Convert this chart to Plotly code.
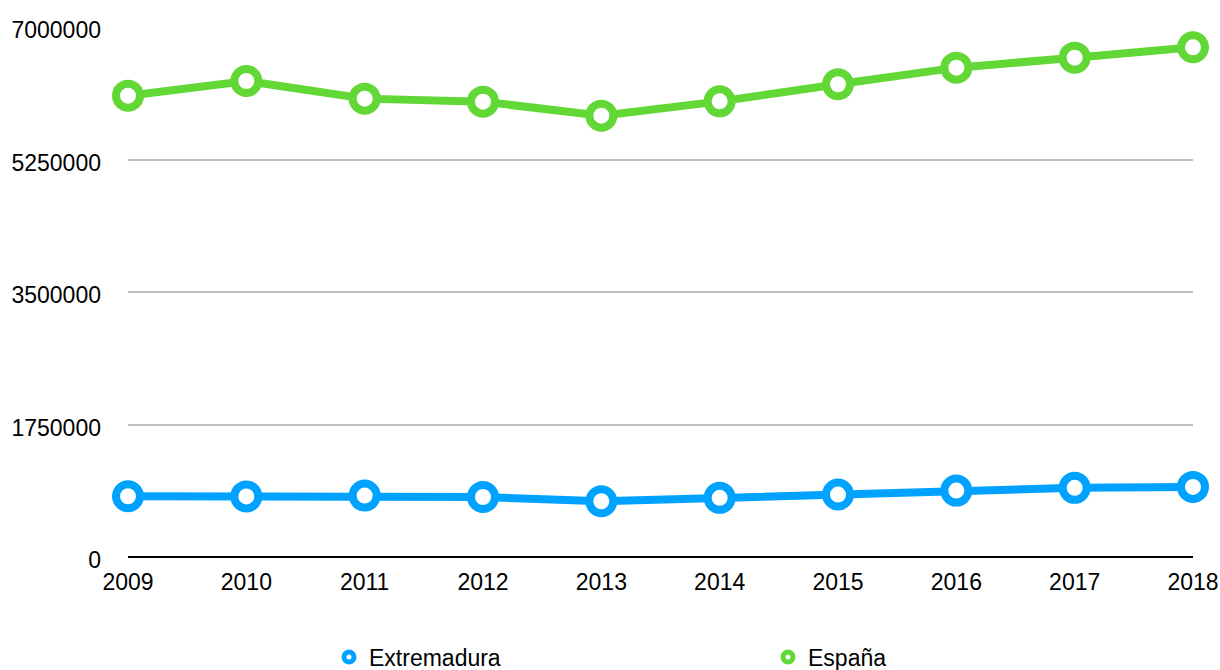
import plotly.graph_objects as go

years = [2009, 2010, 2011, 2012, 2013, 2014, 2015, 2016, 2017, 2018]
extremadura = [802000, 800000, 811000, 792000, 736000, 781000, 825000, 877000, 913000, 926000]
espana = [6093000, 6287000, 6054000, 6014000, 5829000, 6018000, 6244000, 6463000, 6595000, 6732000]
y_ticks = [0, 1750000, 3500000, 5250000, 7000000]

BLUE = "#00A2FF"
GREEN = "#61D836"
FONT = "Liberation Sans, Arial, Helvetica, sans-serif"

fig = go.Figure()

for name, vals, color in [("Extremadura", extremadura, BLUE), ("España", espana, GREEN)]:
    fig.add_trace(go.Scatter(
        x=years, y=vals, name=name, mode="lines+markers",
        line=dict(color=color, width=8),
        marker=dict(size=24, color="white", line=dict(color=color, width=8)),
        showlegend=False, cliponaxis=False,
    ))
    # legend entry: ring marker only
    fig.add_trace(go.Scatter(
        x=[None], y=[None], name=name, mode="markers",
        marker=dict(size=10, color="white", line=dict(color=color, width=5)),
    ))

fig.update_layout(
    width=1220, height=670,
    margin=dict(l=128, r=27, t=27, b=112.5, autoexpand=False),
    plot_bgcolor="white", paper_bgcolor="white",
    font=dict(family=FONT, size=23, color="black"),
    legend=dict(
        orientation="h", xref="container", yref="container",
        x=329 / 1220, xanchor="left", y=13 / 670, yanchor="middle",
        entrywidth=394, entrywidthmode="pixels",
        font=dict(size=23), bgcolor="rgba(0,0,0,0)",
    ),
)

fig.update_xaxes(
    range=[2009, 2018], tickvals=years, ticktext=[str(y) for y in years],
    showgrid=False, zeroline=False, showline=False, automargin=False,
    ticks="", ticklabelstandoff=9,
)
fig.update_yaxes(
    range=[0, 7000000], tickvals=y_ticks, ticktext=[str(v) for v in y_ticks],
    showgrid=True, gridcolor="#BFBFBF", gridwidth=1.5, automargin=False,
    zeroline=True, zerolinecolor="black", zerolinewidth=2,
    showline=False, ticks="", ticklabelstandoff=26, ticklabelshift=3,
)

fig.write_html("out.html")
